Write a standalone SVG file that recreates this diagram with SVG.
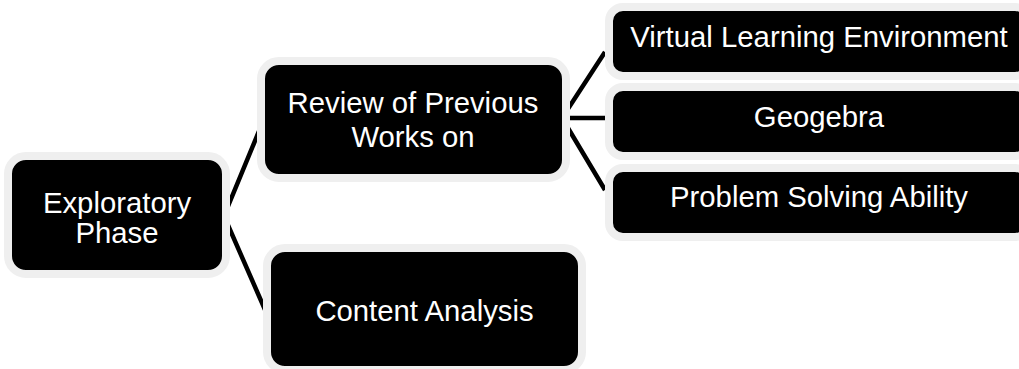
<svg xmlns="http://www.w3.org/2000/svg" width="1019" height="369" viewBox="0 0 1019 369">
<style>
.box{fill:#000;stroke:#efefef;stroke-width:8}
.t{fill:#fff;font-family:"Liberation Sans",Arial,sans-serif;font-size:29.3px;text-anchor:middle}
.c{stroke:#000;stroke-width:4.5;fill:none;stroke-linejoin:miter}
</style>
<rect width="1019" height="369" fill="#fff"/>
<g id="connectors">
<polyline class="c" points="264,119 224,216 266,312"/>
<polyline class="c" points="605,52 562,118 605,190"/>
<line class="c" x1="562" y1="118" x2="606" y2="118"/>
</g>
<g id="exploratory">
<rect class="box" x="8" y="156" width="218" height="118" rx="18"/>
<text class="t" x="117" y="213">Exploratory</text>
<text class="t" x="117" y="243">Phase</text>
</g>
<g id="review">
<rect class="box" x="261" y="61" width="305" height="117" rx="18"/>
<text class="t" x="413" y="113">Review of Previous</text>
<text class="t" x="413" y="147">Works on</text>
</g>
<g id="content">
<rect class="box" x="267" y="248" width="315" height="122" rx="18"/>
<text class="t" x="424.5" y="321">Content Analysis</text>
</g>
<g id="vle">
<rect class="box" x="609" y="7" width="420" height="69" rx="14"/>
<text class="t" x="819" y="47">Virtual Learning Environment</text>
</g>
<g id="geogebra">
<rect class="box" x="609" y="87" width="420" height="69" rx="14"/>
<text class="t" x="819" y="127">Geogebra</text>
</g>
<g id="psa">
<rect class="box" x="609" y="168" width="420" height="69" rx="14"/>
<text class="t" x="819" y="207">Problem Solving Ability</text>
</g>
</svg>
